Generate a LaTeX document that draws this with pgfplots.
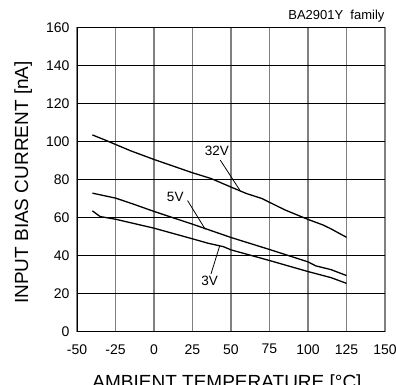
\documentclass[border=0pt]{standalone}
\usepackage{pgfplots}
\pgfplotsset{compat=1.18}
\usepackage{fontspec}
\setmainfont{Liberation Sans}

\begin{document}
\begin{tikzpicture}
\begin{axis}[
    scale only axis,
    width=308pt, height=304.5pt,
    xmin=-50, xmax=150, ymin=0, ymax=160,
    xtick={-50,-25,...,150},
    ytick={0,20,...,160},
    axis lines=left,
    axis line style={-, black, line width=0.9pt},
    grid=major,
    x grid style={gray, line width=1.1pt},
    y grid style={black, line width=0.7pt},
    major tick length=0pt,
    /pgf/number format/assume math mode=true,
    tick label style={font=\fontsize{14}{14}\selectfont},
    xticklabel style={yshift=-9pt},
    yticklabel style={xshift=-4pt},
    xlabel={AMBIENT TEMPERATURE [°C]},
    ylabel={INPUT BIAS CURRENT [nA]},
    label style={font=\fontsize{19}{19}\selectfont},
    xlabel style={at={(axis description cs:0.487,-0.187)}, anchor=base},
    ylabel style={at={(axis description cs:-0.175,0.49)}, anchor=center},
    clip=false,
]
% 32V
\addplot[black, line width=1.3pt] coordinates {
    (-40,103.4)(-32,100.8)(-25,98.4)(-15,95)(0,90.5)(25,83.5)(37,80.5)
    (50,76)(60,72.6)(70,70)(75,68)(85,64)(100,59)(110,56)(115,54)(125,49.6)
};
% 5V
\addplot[black, line width=1.3pt] coordinates {
    (-40,72.8)(-25,70.2)(-15,67.5)(0,63.2)(10,60.5)(25,56.5)(35,53.7)
    (50,49.5)(75,43.2)(90,39.3)(100,36.7)(105,34.6)(115,32.6)(125,29.5)
};
% 3V
\addplot[black, line width=1.3pt] coordinates {
    (-40,63.5)(-35,60.5)(-25,59.1)(0,54.4)(25,48.8)(35,46.5)(45,44.7)
    (50,43)(75,37.4)(100,31.6)(115,28.4)(125,25.4)
};
\draw[black, line width=0.8pt] (axis cs:43,90.2) -- (axis cs:55.6,74.5);
\draw[black, line width=0.8pt] (axis cs:21.8,68.9) -- (axis cs:33.3,53.8);
\draw[black, line width=0.8pt] (axis cs:37,30.3) -- (axis cs:42.6,45);
\node[font=\fontsize{13.5}{13.5}\selectfont] at (axis cs:40.9,95.1) {32V};
\node[font=\fontsize{13.5}{13.5}\selectfont] at (axis cs:13.8,70.6) {5V};
\node[font=\fontsize{13.5}{13.5}\selectfont] at (axis cs:36.1,26.6) {3V};
\node[font=\fontsize{13}{13}\selectfont, anchor=base east]
    at (axis description cs:1.0097,1.026) {BA2901Y\ \ family};
\end{axis}
\pgfresetboundingbox
\useasboundingbox (-77pt,-53.3pt) rectangle (319pt,331.7pt);
\end{tikzpicture}
\end{document}
